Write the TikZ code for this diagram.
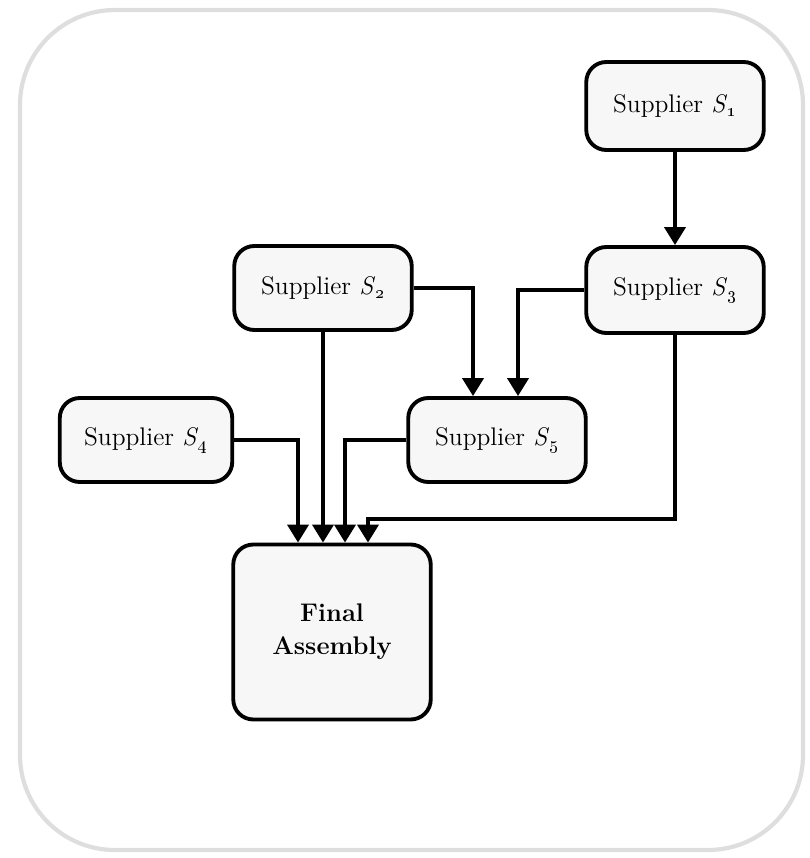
\documentclass[tikz,border=0pt]{standalone}
\usetikzlibrary{arrows.meta}
\definecolor{FrameClr}{rgb}{0.87,0.87,0.87}
\definecolor{BoxClr}{rgb}{0.97,0.97,0.97}
\newcommand{\Sup}[1]{Supplier \textit{S}\textsubscript{\oldstylenums{#1}}}

\begin{document}
\begin{tikzpicture}[x=0.02cm,y=-0.02cm,
  supbox/.style={draw,fill=BoxClr,line width=2.2pt,rounded corners=0.4cm,
    minimum width=3.55cm,minimum height=1.68cm,font=\fontsize{14.5}{18}\selectfont},
  flow/.style={line width=2.2pt,-{Triangle[length=0.36cm,width=0.42cm]}}]
\useasboundingbox (0,0) rectangle (809,858);
\draw[FrameClr,line width=2.4pt,rounded corners=1.9cm] (20,10) rectangle (803,850);

\node[supbox,minimum height=1.76cm] (s1) at (675,106) {\Sup{1}};
\node[supbox,minimum height=1.72cm] (s3) at (675,290) {\Sup{3}};
\node[supbox] (s2) at (323,288) {\Sup{2}};
\node[supbox] (s5) at (497,440) {\Sup{5}};
\node[supbox,minimum width=3.45cm] (s4) at (146,440) {\Sup{4}};
\node[supbox,minimum width=3.95cm,minimum height=3.5cm,align=center,
  font=\fontsize{14.5}{19}\selectfont\bfseries] (fa) at (332,632) {Final\\Assembly};

\coordinate (bend) at (675,519);

\draw[flow] (s1) -- (s3);
\draw[flow] (s2.east) -| ([xshift=-0.48cm]s5.north);
\draw[flow] (s3.west) -| ([xshift=0.42cm]s5.north);
\draw[flow] (s2.south) -- (s2.south |- fa.north);
\draw[flow] (s4.east) -| ([xshift=-0.68cm]fa.north);
\draw[flow] (s5.west) -| ([xshift=0.26cm]fa.north);
\draw[flow] (s3.south) -- (bend) -| ([xshift=0.72cm]fa.north);

\end{tikzpicture}
\end{document}
